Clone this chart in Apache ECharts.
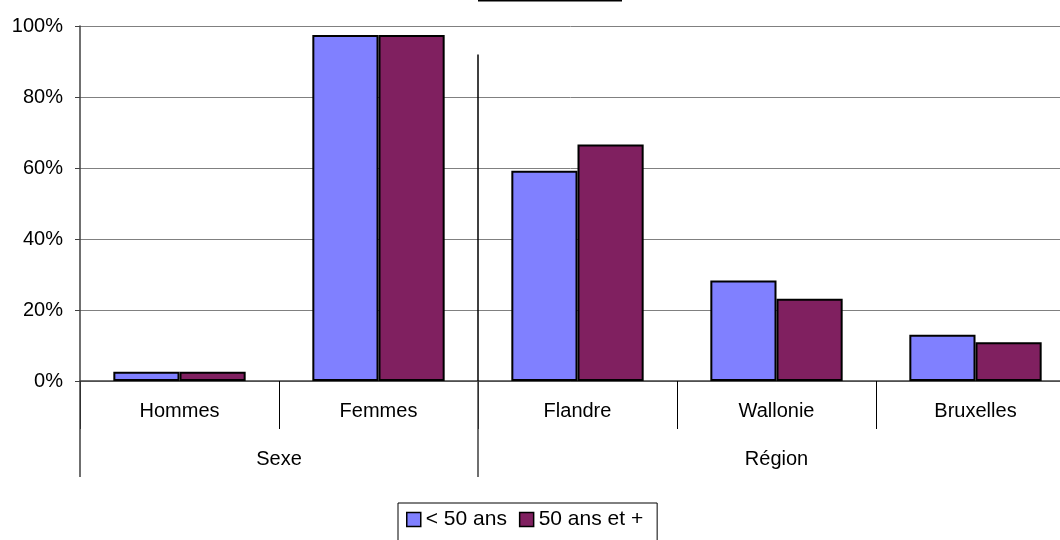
<!DOCTYPE html>
<html><head><meta charset="utf-8">
<script src="https://cdn.jsdelivr.net/npm/echarts@6/dist/echarts.min.js"></script>
<style>html,body{margin:0;padding:0;background:#fff;overflow:hidden}#c{width:1060px;height:540px}</style>
</head><body><div id="c"></div>
<script>
const categories = ['Hommes', 'Femmes', 'Flandre', 'Wallonie', 'Bruxelles'];
const groupNames = ['Sexe', 'Région'];
const groupBounds = [0, 2, 5];
const groupCenters = [1, 3.5];
const seriesNames = ['< 50 ans', '50 ans et +'];
const under50 = [2.6, 97.5, 59.2, 28.3, 13.0];
const over50 = [2.6, 97.5, 66.6, 23.2, 10.9];
const yMin = 0, yMax = 100, yStep = 20;
const separatorAt = 2, separatorTop = 92;

const FONT = "'Liberation Sans', Arial, sans-serif";
const chart = echarts.init(document.getElementById('c'));
chart.setOption({
  animation: false,
  textStyle: { fontFamily: FONT },
  graphic: [{ type: 'line', shape: { x1: 478, y1: 0, x2: 622, y2: 0 }, style: { stroke: '#000', lineWidth: 3 } }],
  grid: { left: 80, width: 995, top: 26, height: 355, containLabel: false, outerBoundsMode: 'none' },
  legend: {
    data: seriesNames,
    top: 503, left: 398,
    icon: 'rect', itemWidth: 14, itemHeight: 14, itemGap: 12,
    borderColor: '#000', borderWidth: 1, padding: [6, 14, 14, 8],
    textStyle: { fontSize: 21, color: '#000', fontFamily: FONT },
    itemStyle: { borderColor: '#000', borderWidth: 1.5 }
  },
  xAxis: [{
    type: 'category', data: categories, position: 'bottom',
    axisLine: { lineStyle: { color: '#404040', width: 1.5 } },
    axisTick: { show: true, interval: 0, length: 48, lineStyle: { color: '#000' } },
    axisLabel: { interval: 0, margin: 20, fontSize: 20, color: '#000', fontFamily: FONT },
    splitLine: { show: false }
  }, {
    type: 'value', min: 0, max: categories.length, position: 'bottom',
    axisLine: { show: false },
    splitLine: { show: false },
    axisTick: { show: true, customValues: groupBounds, length: 96, lineStyle: { color: '#404040', width: 1.5 } },
    axisLabel: {
      customValues: groupCenters, margin: 68, fontSize: 20, color: '#000', fontFamily: FONT,
      formatter: v => groupNames[groupCenters.indexOf(v)]
    }
  }],
  yAxis: {
    type: 'value', min: yMin, max: yMax, interval: yStep,
    axisLine: { show: true, lineStyle: { color: '#404040', width: 1.5 } },
    axisTick: { show: true, length: 5, lineStyle: { color: '#404040' } },
    axisLabel: { formatter: '{value}%', margin: 17, fontSize: 20, color: '#000', fontFamily: FONT },
    splitLine: { lineStyle: { color: '#808080', width: 1 } }
  },
  series: [{
    name: seriesNames[0], type: 'bar', data: under50, xAxisIndex: 0,
    barGap: '0%', barCategoryGap: '33.5%',
    itemStyle: { color: '#8080FF', borderColor: '#000', borderWidth: 2 }
  }, {
    name: seriesNames[1], type: 'bar', data: over50, xAxisIndex: 0,
    barGap: '0%', barCategoryGap: '33.5%',
    itemStyle: { color: '#802060', borderColor: '#000', borderWidth: 2 }
  }, {
    type: 'line', xAxisIndex: 1, data: [], silent: true,
    markLine: {
      symbol: 'none', silent: true, label: { show: false },
      lineStyle: { color: '#000', width: 1.5, type: 'solid' },
      data: [[{ coord: [separatorAt, 0] }, { coord: [separatorAt, separatorTop] }]]
    }
  }]
});
</script></body></html>
